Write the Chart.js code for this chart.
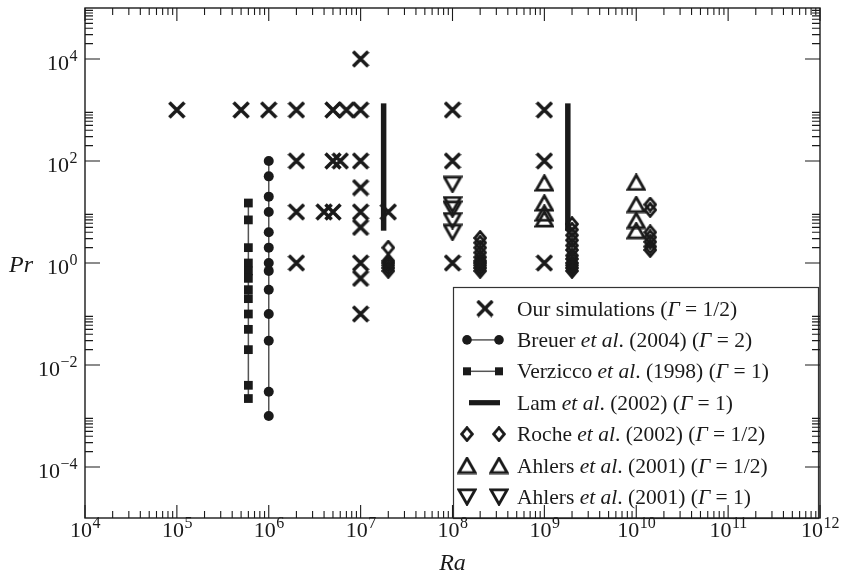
<!DOCTYPE html>
<html>
<head>
<meta charset="utf-8">
<script src="https://cdn.jsdelivr.net/npm/chart.js@4.4.0/dist/chart.umd.min.js"></script>
<style>
  html, body { margin: 0; padding: 0; background: #fff; }
  canvas { display: block; }
</style>
</head>
<body>
<canvas id="prChart" width="842" height="585" style="width:842px;height:585px"></canvas>
<script>
// our simulations (Gamma = 1/2)
const simRa = [1e5, 5e5, 1e6, 2e6, 2e6, 2e6, 2e6, 5e6, 7e6, 1e7, 5e6, 6e6, 1e7, 4e6, 5e6,
               1e7, 1e7, 1e7, 1e7, 1e7, 1e7, 1e7, 2e7, 1e8, 1e8, 1e8, 1e9, 1e9, 1e9];
const simPr = [1e3, 1e3, 1e3, 1e3, 100, 10, 1, 1e3, 1e3, 1e3, 100, 100, 100, 10, 10,
               1e4, 30, 10, 5, 1, 0.5, 0.1, 10, 1e3, 100, 1, 1e3, 100, 1];

// Breuer et al. (2004)
const breuerRa = 1e6;
const breuerPr = [100, 50, 20, 10, 4, 2, 1, 0.7, 0.3, 0.1, 0.03, 0.003, 0.001];

// Verzicco et al. (1998)
const verziccoRa = 6e5;
const verziccoPr = [15, 7, 2, 1, 0.7, 0.5, 0.3, 0.2, 0.1, 0.05, 0.02, 0.004, 0.0022];

// Lam et al. (2002)
const lamRa = [1.78e7, 1.8e9];
const lamPr = [4.3, 1350];

// Roche et al. (2002)
const rocheRa = [2e7, 2e8, 2e9, 1.42e10];
const rochePr = [
  [2, 1.1, 1, 0.9, 0.8, 0.7],
  [3.1, 2.5, 2, 1.6, 1.3, 1.1, 1, 0.9, 0.8, 0.7],
  [5.8, 4.5, 3.5, 2.8, 2.2, 1.8, 1.4, 1.2, 1, 0.9, 0.8, 0.7],
  [14, 11, 4, 3.2, 2.6, 2.1, 1.8]
];

// Ahlers et al. (2001)
const ahlersHalfRa = [1e9, 1e10];
const ahlersHalfPr = [[37, 15, 9.5, 7.3], [38, 14, 6.8, 4.3]];
const ahlersOneRa = 1e8;
const ahlersOnePr = [35, 14, 11.4, 6.8, 4];

// axes
const xExps = [4, 5, 6, 7, 8, 9, 10, 11, 12];
const yLabelExps = [-4, -2, 0, 2, 4];

const INK = '#1a1a1a';
const SERIF = '"Liberation Serif", "Times New Roman", serif';

function marker(kind) {
  const c = document.createElement('canvas');
  if (kind === 'cross') { c.width = 18; c.height = 18; }
  else if (kind === 'diamond') { c.width = 14; c.height = 16; }
  else { c.width = 20; c.height = 18; }
  const g = c.getContext('2d');
  g.strokeStyle = INK;
  g.beginPath();
  if (kind === 'cross') {
    g.lineWidth = 3.5;
    g.moveTo(1.5, 1.5); g.lineTo(16.5, 16.5);
    g.moveTo(16.5, 1.5); g.lineTo(1.5, 16.5);
  } else if (kind === 'diamond') {
    g.lineWidth = 2.8;
    g.moveTo(7, 1.6); g.lineTo(12.4, 8); g.lineTo(7, 14.4); g.lineTo(1.6, 8); g.closePath();
  } else if (kind === 'up') {
    g.lineWidth = 2.8;
    g.moveTo(10, 1.8); g.lineTo(18.2, 16.2); g.lineTo(1.8, 16.2); g.closePath();
  } else {
    g.lineWidth = 2.8;
    g.moveTo(10, 16.2); g.lineTo(18.2, 1.8); g.lineTo(1.8, 1.8); g.closePath();
  }
  g.stroke();
  return c;
}
const crossImg = marker('cross');
const diamondImg = marker('diamond');
const upImg = marker('up');
const downImg = marker('down');

const pts = (ra, prs) => prs.map(p => ({ x: ra, y: p }));

const datasets = [
  { label: 'Our simulations', data: simRa.map((r, i) => ({ x: r, y: simPr[i] })),
    pointStyle: crossImg, pointRadius: 7, order: 1 },
  { label: 'Breuer', data: pts(breuerRa, breuerPr), showLine: true,
    borderColor: '#555', borderWidth: 1.5, pointStyle: 'circle', pointRadius: 5,
    pointBackgroundColor: INK, pointBorderWidth: 0, order: 3 },
  { label: 'Verzicco', data: pts(verziccoRa, verziccoPr), showLine: true,
    borderColor: '#555', borderWidth: 1.5, pointStyle: 'rect', pointRadius: 6.2,
    pointBackgroundColor: INK, pointBorderWidth: 0, order: 3 },
  { label: 'Lam', data: pts(lamRa[0], lamPr), showLine: true, borderColor: INK,
    borderWidth: 5.5, borderCapStyle: 'butt', pointRadius: 0, order: 9 },
  { label: 'Lam b', data: pts(lamRa[1], lamPr), showLine: true, borderColor: INK,
    borderWidth: 5.5, borderCapStyle: 'butt', pointRadius: 0, order: 9 },
  { label: 'Roche', data: rocheRa.flatMap((r, i) => pts(r, rochePr[i])),
    pointStyle: diamondImg, pointRadius: 7, order: 2 },
  { label: 'Ahlers 1/2', data: ahlersHalfRa.flatMap((r, i) => pts(r, ahlersHalfPr[i])),
    pointStyle: upImg, pointRadius: 7, order: 2 },
  { label: 'Ahlers 1', data: pts(ahlersOneRa, ahlersOnePr),
    pointStyle: downImg, pointRadius: 7, order: 2 }
];

const legendRows = [
  { sym: 'cross', parts: [['Our simulations (', 0], ['\u0393', 1], [' = 1/2)', 0]] },
  { sym: 'circleLine', parts: [['Breuer ', 0], ['et al', 1], ['. (2004) (', 0], ['\u0393', 1], [' = 2)', 0]] },
  { sym: 'squareLine', parts: [['Verzicco ', 0], ['et al', 1], ['. (1998) (', 0], ['\u0393', 1], [' = 1)', 0]] },
  { sym: 'bar', parts: [['Lam ', 0], ['et al', 1], ['. (2002) (', 0], ['\u0393', 1], [' = 1)', 0]] },
  { sym: 'diamond', parts: [['Roche ', 0], ['et al', 1], ['. (2002) (', 0], ['\u0393', 1], [' = 1/2)', 0]] },
  { sym: 'up', parts: [['Ahlers ', 0], ['et al', 1], ['. (2001) (', 0], ['\u0393', 1], [' = 1/2)', 0]] },
  { sym: 'down', parts: [['Ahlers ', 0], ['et al', 1], ['. (2001) (', 0], ['\u0393', 1], [' = 1)', 0]] }
];

function drawRich(ctx, parts, x, y, size) {
  for (const [t, it] of parts) {
    ctx.font = (it ? 'italic ' : '') + size + 'px ' + SERIF;
    ctx.fillText(t, x, y);
    x += ctx.measureText(t).width;
  }
}

function drawLegend(ctx) {
  const L = 453, T = 287, R = 818, B = 518;
  ctx.save();
  ctx.fillStyle = '#fff';
  ctx.fillRect(L, T, R - L, B - T);
  ctx.strokeStyle = '#333';
  ctx.lineWidth = 1.2;
  ctx.strokeRect(L + 0.5, T + 0.5, R - L, B - T);
  ctx.fillStyle = INK;
  ctx.textAlign = 'left';
  ctx.textBaseline = 'alphabetic';
  const a = 467, b = 499;
  legendRows.forEach((row, i) => {
    const cy = 308.5 + i * 31.4;
    ctx.strokeStyle = INK;
    if (row.sym === 'cross') {
      ctx.drawImage(crossImg, 485 - 9, cy - 9);
    } else if (row.sym === 'circleLine' || row.sym === 'squareLine') {
      ctx.lineWidth = 1.5;
      ctx.strokeStyle = '#555';
      ctx.beginPath(); ctx.moveTo(a, cy); ctx.lineTo(b, cy); ctx.stroke();
      for (const px of [a, b]) {
        ctx.beginPath();
        if (row.sym === 'circleLine') ctx.arc(px, cy, 4.8, 0, Math.PI * 2);
        else ctx.rect(px - 4, cy - 4, 8, 8);
        ctx.fill();
      }
    } else if (row.sym === 'bar') {
      ctx.fillRect(469, cy - 2.6, 31, 5.2);
    } else {
      const img = row.sym === 'diamond' ? diamondImg : row.sym === 'up' ? upImg : downImg;
      for (const px of [a, b]) ctx.drawImage(img, px - img.width / 2, cy - img.height / 2);
    }
    drawRich(ctx, row.parts, 517, cy + 7, 21.5);
  });
  ctx.restore();
}

function drawPow(ctx, exp, x, y, align) {
  const base = '10';
  const e = exp < 0 ? '\u2212' + (-exp) : String(exp);
  ctx.font = '22px ' + SERIF;
  const bw = ctx.measureText(base).width;
  ctx.font = '16px ' + SERIF;
  const ew = ctx.measureText(e).width;
  const x0 = align === 'center' ? x - (bw + ew) / 2 : x - (bw + ew);
  ctx.font = '22px ' + SERIF;
  ctx.fillText(base, x0, y);
  ctx.font = '16px ' + SERIF;
  ctx.fillText(e, x0 + bw + 0.5, y - 9);
}

const axesPlugin = {
  id: 'paperAxes',
  afterDatasetsDraw(chart) {
    const { ctx, chartArea: A, scales: { x, y } } = chart;
    drawLegend(ctx);
    ctx.save();
    ctx.strokeStyle = INK;
    ctx.lineWidth = 1.4;
    ctx.strokeRect(A.left, A.top, A.right - A.left, A.bottom - A.top);
    ctx.lineWidth = 1.1;
    ctx.beginPath();
    // x ticks, top and bottom, pointing inward
    for (let e = xExps[0]; e <= xExps[xExps.length - 1]; e++) {
      for (let k = 1; k <= 9; k++) {
        const v = k * Math.pow(10, e);
        if (v > 1e12) break;
        const px = x.getPixelForValue(v);
        const len = k === 1 ? 13 : 7;
        ctx.moveTo(px, A.bottom); ctx.lineTo(px, A.bottom - len);
        ctx.moveTo(px, A.top); ctx.lineTo(px, A.top + len);
      }
    }
    // y ticks, left and right
    for (let e = -6; e <= 4; e += 2) {
      for (let k = 1; k <= 9; k++) {
        const v = k * Math.pow(10, e);
        if (v < 1e-5 || v > 1e5) continue;
        const py = y.getPixelForValue(v);
        const len = k === 1 ? 15 : 8;
        ctx.moveTo(A.left, py); ctx.lineTo(A.left + len, py);
        ctx.moveTo(A.right, py); ctx.lineTo(A.right - len, py);
      }
    }
    ctx.stroke();

    ctx.fillStyle = INK;
    ctx.textAlign = 'left';
    ctx.textBaseline = 'alphabetic';
    xExps.forEach(e => drawPow(ctx, e, x.getPixelForValue(Math.pow(10, e)), 537, 'center'));
    yLabelExps.forEach(e => drawPow(ctx, e, 77, y.getPixelForValue(Math.pow(10, e)) + 11, 'right'));

    ctx.font = 'italic 24px ' + SERIF;
    ctx.fillText('Pr', 9, 272);
    ctx.textAlign = 'center';
    ctx.fillText('Ra', (A.left + A.right) / 2, 570);
    ctx.restore();
  }
};

new Chart(document.getElementById('prChart'), {
  type: 'scatter',
  data: { datasets: datasets },
  options: {
    responsive: false,
    animation: false,
    devicePixelRatio: 1,
    events: [],
    layout: { padding: { left: 85, right: 22, top: 4, bottom: 67 } },
    scales: {
      x: { type: 'logarithmic', min: 1e4, max: 1e12, display: false },
      y: { type: 'logarithmic', min: 1e-5, max: 1e5, display: false }
    },
    plugins: {
      legend: { display: false },
      tooltip: { enabled: false }
    }
  },
  plugins: [axesPlugin]
});
</script>
</body>
</html>
